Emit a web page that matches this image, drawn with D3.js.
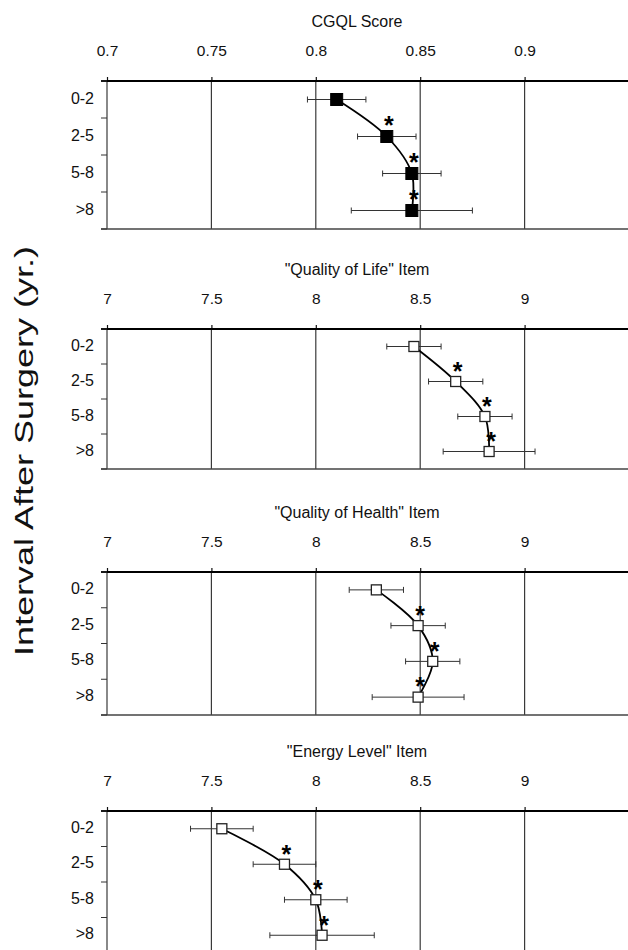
<!DOCTYPE html>
<html>
<head>
<meta charset="utf-8">
<script src="https://cdn.jsdelivr.net/npm/d3@7"></script>
<style>
  html, body { margin: 0; padding: 0; background: #fff; }
  svg { display: block; font-family: "Liberation Sans", Arial, sans-serif; }
</style>
</head>
<body>
<svg id="chart" width="628" height="950"></svg>
<script>
const intervals = ["0-2", "2-5", "5-8", ">8"];
const significant = [false, true, true, true];

const cgqlTicks = [0.7, 0.75, 0.8, 0.85, 0.9];
const itemTicks = [7, 7.5, 8, 8.5, 9];

const cgqlMean = [0.810, 0.834, 0.846, 0.846];
const cgqlErr = [0.014, 0.014, 0.014, 0.029];

const lifeMean = [8.47, 8.67, 8.81, 8.83];
const lifeErr = [0.13, 0.13, 0.13, 0.22];

const healthMean = [8.29, 8.49, 8.56, 8.49];
const healthErr = [0.13, 0.13, 0.13, 0.22];

const energyMean = [7.55, 7.85, 8.00, 8.03];
const energyErr = [0.15, 0.15, 0.15, 0.25];

const panels = [
  { title: "CGQL Score", mean: cgqlMean, err: cgqlErr, ticks: cgqlTicks, domain: [0.7, 0.95], top: 81, height: 148, filled: true },
  { title: "\"Quality of Life\" Item", mean: lifeMean, err: lifeErr, ticks: itemTicks, domain: [7, 9.5], top: 329, height: 140, filled: false },
  { title: "\"Quality of Health\" Item", mean: healthMean, err: healthErr, ticks: itemTicks, domain: [7, 9.5], top: 572, height: 143, filled: false },
  { title: "\"Energy Level\" Item", mean: energyMean, err: energyErr, ticks: itemTicks, domain: [7, 9.5], top: 811, height: 142, filled: false }
];

const svg = d3.select("#chart");
const left = 107, right = 629;

panels.forEach(p => {
  const g = svg.append("g");
  const bottom = p.top + p.height;

  const x = d3.scaleLinear().domain(p.domain).range([left, right]);
  const y = d3.scaleBand().domain(intervals).range([p.top, bottom]);
  const cy = d => y(d) + y.bandwidth() / 2;

  const rows = intervals.map((k, i) => ({ k, v: p.mean[i], e: p.err[i], sig: significant[i] }));

  // title
  g.append("text")
    .attr("x", 357)
    .attr("y", p.top - 54)
    .attr("text-anchor", "middle")
    .attr("font-size", 16)
    .attr("fill", "#111")
    .text(p.title);

  // gridlines
  g.selectAll(".grid")
    .data(p.ticks)
    .enter()
    .append("line")
    .attr("x1", d => x(d)).attr("x2", d => x(d))
    .attr("y1", p.top).attr("y2", bottom)
    .attr("stroke", "#3a3a3a")
    .attr("stroke-width", 1.2);

  // top axis
  const ax = g.append("g")
    .attr("transform", `translate(0,${p.top})`)
    .call(d3.axisTop(x).tickValues(p.ticks).tickSize(4).tickSizeOuter(0).tickPadding(21).tickFormat(d => String(d)));
  ax.select(".domain").remove();
  ax.selectAll("line").attr("stroke", "#111").attr("stroke-width", 1.2);
  ax.selectAll("text")
    .attr("font-size", 15.5)
    .attr("fill", "#111")
    .attr("font-family", "Liberation Sans, Arial, sans-serif");

  g.append("line")
    .attr("x1", 101).attr("x2", 628)
    .attr("y1", p.top).attr("y2", p.top)
    .attr("stroke", "#000")
    .attr("stroke-width", 2);

  g.append("line")
    .attr("x1", 101).attr("x2", 628)
    .attr("y1", bottom).attr("y2", bottom)
    .attr("stroke", "#444")
    .attr("stroke-width", 1.5);

  // left category ticks at band edges
  g.selectAll(".ytick")
    .data(intervals.map(k => y(k)).concat([bottom]))
    .enter()
    .append("line")
    .attr("x1", left - 6).attr("x2", left)
    .attr("y1", d => d).attr("y2", d => d)
    .attr("stroke", "#333")
    .attr("stroke-width", 1);

  g.selectAll(".ylab")
    .data(intervals)
    .enter()
    .append("text")
    .attr("x", 94)
    .attr("y", d => cy(d) + 4)
    .attr("text-anchor", "end")
    .attr("font-size", 16)
    .attr("fill", "#111")
    .text(d => d);

  // error bars
  const eb = g.selectAll(".err")
    .data(rows)
    .enter()
    .append("g");
  eb.append("line")
    .attr("x1", d => x(d.v - d.e)).attr("x2", d => x(d.v + d.e))
    .attr("y1", d => cy(d.k)).attr("y2", d => cy(d.k))
    .attr("stroke", "#333").attr("stroke-width", 1);
  eb.append("line")
    .attr("x1", d => x(d.v - d.e)).attr("x2", d => x(d.v - d.e))
    .attr("y1", d => cy(d.k) - 3).attr("y2", d => cy(d.k) + 3)
    .attr("stroke", "#333").attr("stroke-width", 1);
  eb.append("line")
    .attr("x1", d => x(d.v + d.e)).attr("x2", d => x(d.v + d.e))
    .attr("y1", d => cy(d.k) - 3).attr("y2", d => cy(d.k) + 3)
    .attr("stroke", "#333").attr("stroke-width", 1);

  // smooth trend line
  const line = d3.line()
    .x(d => x(d.v))
    .y(d => cy(d.k))
    .curve(d3.curveCatmullRom.alpha(0.5));
  g.append("path")
    .datum(rows)
    .attr("d", line)
    .attr("fill", "none")
    .attr("stroke", "#000")
    .attr("stroke-width", 1.8);

  // markers
  const s = p.filled ? 12 : 10;
  g.selectAll(".mark")
    .data(rows)
    .enter()
    .append("rect")
    .attr("x", d => x(d.v) - s / 2)
    .attr("y", d => cy(d.k) - s / 2)
    .attr("width", s).attr("height", s)
    .attr("fill", p.filled ? "#000" : "#fff")
    .attr("stroke", p.filled ? "#000" : "#222")
    .attr("stroke-width", p.filled ? 1 : 1.3);

  // significance asterisks
  g.selectAll(".star")
    .data(rows.filter(d => d.sig))
    .enter()
    .append("text")
    .attr("x", d => x(d.v) + 2)
    .attr("y", d => y(d.k) + 2 + 14)
    .attr("text-anchor", "middle")
    .attr("font-size", 25)
    .attr("font-weight", "bold")
    .attr("fill", "#000")
    .text("*");
});

// y axis title (the scan is stretched along the text direction)
svg.append("text")
  .attr("transform", "rotate(-90)")
  .attr("x", -451)
  .attr("y", 33)
  .attr("text-anchor", "middle")
  .attr("font-size", 26)
  .attr("textLength", 410)
  .attr("lengthAdjust", "spacingAndGlyphs")
  .attr("fill", "#111")
  .text("Interval After Surgery (yr.)");
</script>
</body>
</html>
